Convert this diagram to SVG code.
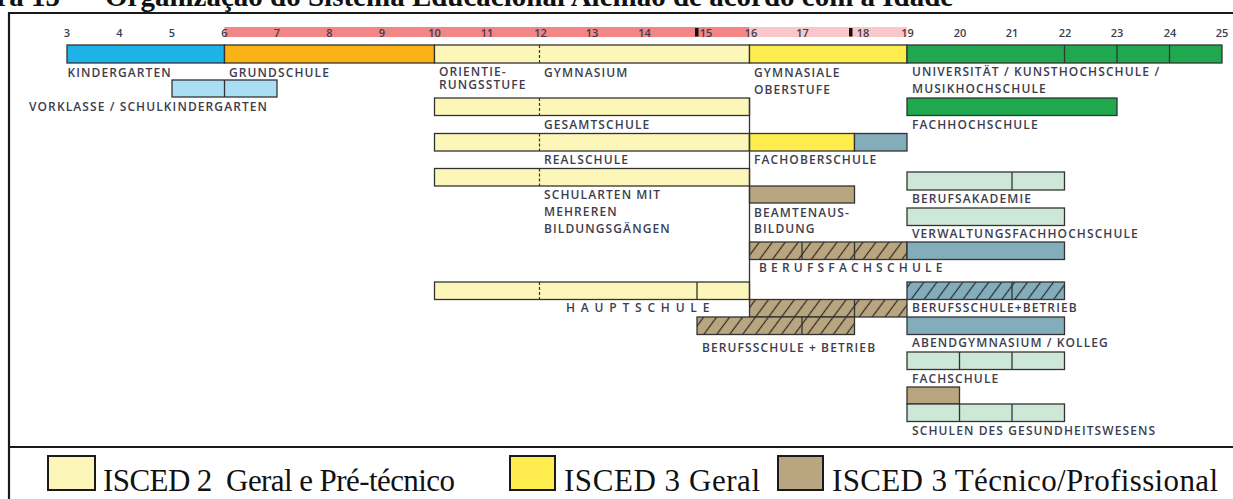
<svg xmlns="http://www.w3.org/2000/svg" width="1233" height="499" viewBox="0 0 1233 499">
<style>
.lbl{font-family:"Open Sans","DejaVu Sans",sans-serif;font-size:12px;font-weight:600;fill:#3d3d4d;letter-spacing:1.1px}
.sp1{letter-spacing:4.2px}
.sp2{letter-spacing:5.8px}
.num{font-family:"Open Sans","DejaVu Sans",sans-serif;font-size:11px;font-weight:600;fill:#3d3d4d;text-anchor:middle}
.bar{stroke:#333;stroke-width:1.3}
.ln{stroke:#333;stroke-width:1.3;fill:none}
.dash{stroke:#333;stroke-width:1.2;stroke-dasharray:3 2;fill:none}
.lyel{fill:#FDF6B9}
.yel{fill:#FFEC4F}
.grn{fill:#20A84F}
.lgrn{fill:#CDE8D6}
.bgr{fill:#84ADBC}
.tan{fill:#B9A57F}
.kblue{fill:#1DB3E6}
.lblue{fill:#A9DFF5}
.org{fill:#FBB215}
.hat{fill:url(#hatch);stroke:#333;stroke-width:1.3}
.leg{font-family:"Liberation Serif","Times New Roman",serif;font-size:31px;fill:#111}
.title{font-family:"Liberation Serif","Times New Roman",serif;font-size:29px;font-weight:bold;fill:#111}
.frame{stroke:#1a1a1a;stroke-width:2.2;fill:none}
</style>
<defs>
<pattern id="hatch" patternUnits="userSpaceOnUse" width="10.4" height="10" patternTransform="rotate(36.6)">
<line x1="5.2" y1="-1" x2="5.2" y2="11" stroke="#2a2a2a" stroke-width="1.2"/>
</pattern>
</defs>

<g id="title">
<text class="title" x="60" y="6" text-anchor="end">Figura 15</text>
<text class="title" x="72" y="6">–</text>
<text class="title" x="105" y="6">Organização do Sistema Educacional Alemão de acordo com a Idade</text>
</g>

<g id="frame">
<line class="frame" x1="9" y1="13" x2="1233" y2="13"/>
<line class="frame" x1="9" y1="12" x2="9" y2="499"/>
<line class="frame" x1="9" y1="447" x2="1233" y2="447"/>
</g>

<g id="age-scale">
<rect x="224.5" y="27" width="525" height="10" fill="#F28585"/>
<rect x="749.5" y="27" width="157.5" height="10" fill="#F9C7C9"/>
<rect x="695" y="28" width="3.5" height="8.5" fill="#111"/>
<rect x="849" y="28" width="3.5" height="8.5" fill="#111"/>
<text class="num" x="67" y="36.5">3</text>
<text class="num" x="119.5" y="36.5">4</text>
<text class="num" x="172" y="36.5">5</text>
<text class="num" x="224.5" y="36.5">6</text>
<text class="num" x="277" y="36.5">7</text>
<text class="num" x="329.5" y="36.5">8</text>
<text class="num" x="382" y="36.5">9</text>
<text class="num" x="434.5" y="36.5">10</text>
<text class="num" x="487" y="36.5">11</text>
<text class="num" x="540.5" y="36.5">12</text>
<text class="num" x="592" y="36.5">13</text>
<text class="num" x="644.5" y="36.5">14</text>
<text class="num" x="706" y="36.5">15</text>
<text class="num" x="751" y="36.5">16</text>
<text class="num" x="802.5" y="36.5">17</text>
<text class="num" x="863" y="36.5">18</text>
<text class="num" x="907.5" y="36.5">19</text>
<text class="num" x="960" y="36.5">20</text>
<text class="num" x="1012" y="36.5">21</text>
<text class="num" x="1065" y="36.5">22</text>
<text class="num" x="1117" y="36.5">23</text>
<text class="num" x="1170" y="36.5">24</text>
<text class="num" x="1222" y="36.5">25</text>
</g>

<g id="kindergarten">
<rect class="bar kblue" x="67" y="45" width="157.5" height="18"/>
<text class="lbl" x="67.5" y="76.5">KINDERGARTEN</text>
</g>
<g id="grundschule">
<rect class="bar org" x="224.5" y="45" width="210" height="18"/>
<text class="lbl" x="229" y="76.5">GRUNDSCHULE</text>
</g>
<g id="vorklasse">
<rect class="bar lblue" x="172" y="80" width="105" height="17"/>
<line class="ln" x1="224.5" y1="80" x2="224.5" y2="97"/>
<text class="lbl" x="29" y="111">VORKLASSE / SCHULKINDERGARTEN</text>
</g>
<g id="orientierungsstufe-gymnasium">
<rect class="bar lyel" x="434.5" y="45" width="315" height="18"/>
<line class="dash" x1="539.5" y1="45" x2="539.5" y2="63"/>
<text class="lbl" x="439" y="75.5">ORIENTIE-</text>
<text class="lbl" x="439" y="89">RUNGSSTUFE</text>
<text class="lbl" x="544" y="76.5">GYMNASIUM</text>
</g>
<g id="gymnasiale-oberstufe">
<rect class="bar yel" x="749.5" y="45" width="157.5" height="18"/>
<text class="lbl" x="754" y="76.5">GYMNASIALE</text>
<text class="lbl" x="754" y="94">OBERSTUFE</text>
</g>
<g id="universitaet">
<rect class="bar grn" x="907" y="45" width="315" height="18"/>
<line class="ln" x1="1064.5" y1="45" x2="1064.5" y2="63"/>
<line class="ln" x1="1117" y1="45" x2="1117" y2="63"/>
<line class="ln" x1="1169.5" y1="45" x2="1169.5" y2="63"/>
<text class="lbl" x="912" y="76">UNIVERSITÄT / KUNSTHOCHSCHULE /</text>
<text class="lbl" x="912" y="93">MUSIKHOCHSCHULE</text>
</g>

<g id="gesamtschule">
<rect class="bar lyel" x="434.5" y="98" width="315" height="17.5"/>
<line class="dash" x1="539.5" y1="98" x2="539.5" y2="115.5"/>
<text class="lbl" x="544" y="129">GESAMTSCHULE</text>
</g>
<g id="fachhochschule">
<rect class="bar grn" x="907" y="98" width="210" height="17.5"/>
<text class="lbl" x="912" y="129">FACHHOCHSCHULE</text>
</g>

<g id="realschule">
<rect class="bar lyel" x="434.5" y="133.5" width="315" height="17.5"/>
<line class="dash" x1="539.5" y1="133.5" x2="539.5" y2="151"/>
<text class="lbl" x="544" y="164">REALSCHULE</text>
</g>
<g id="fachoberschule">
<rect class="bar yel" x="749.5" y="133.5" width="105" height="17.5"/>
<rect class="bar bgr" x="854.5" y="133.5" width="52.5" height="17.5"/>
<text class="lbl" x="754" y="164">FACHOBERSCHULE</text>
</g>

<g id="schularten">
<rect class="bar lyel" x="434.5" y="168.5" width="315" height="17.5"/>
<line class="dash" x1="539.5" y1="168.5" x2="539.5" y2="186"/>
<text class="lbl" x="544" y="199">SCHULARTEN MIT</text>
<text class="lbl" x="544" y="216">MEHREREN</text>
<text class="lbl" x="544" y="233">BILDUNGSGÄNGEN</text>
</g>
<g id="beamtenausbildung">
<rect class="bar tan" x="749.5" y="186" width="105" height="17"/>
<text class="lbl" x="754" y="216.5">BEAMTENAUS-</text>
<text class="lbl" x="754" y="233">BILDUNG</text>
</g>
<g id="berufsakademie">
<rect class="bar lgrn" x="907" y="172" width="157.5" height="18"/>
<line class="ln" x1="1012" y1="172" x2="1012" y2="190"/>
<text class="lbl" x="912" y="203">BERUFSAKADEMIE</text>
</g>
<g id="verwaltungsfachhochschule">
<rect class="bar lgrn" x="907" y="208" width="157.5" height="17.5"/>
<text class="lbl" x="912" y="238">VERWALTUNGSFACHHOCHSCHULE</text>
</g>

<g id="berufsfachschule">
<rect class="tan" x="749.5" y="242" width="157.5" height="17.5"/>
<rect class="hat" x="749.5" y="242" width="157.5" height="17.5"/>
<line class="ln" x1="802" y1="242" x2="802" y2="259.5"/>
<line class="ln" x1="854.5" y1="242" x2="854.5" y2="259.5"/>
<rect class="bar bgr" x="907" y="242" width="157.5" height="17.5"/>
<text class="lbl sp1" x="759" y="272">BERUFSFACHSCHULE</text>
</g>

<g id="hauptschule">
<rect class="bar lyel" x="434.5" y="282" width="315" height="17.5"/>
<line class="dash" x1="539.5" y1="282" x2="539.5" y2="299.5"/>
<line class="ln" x1="697" y1="282" x2="697" y2="299.5"/>
<text class="lbl sp2" x="566" y="312">HAUPTSCHULE</text>
</g>

<g id="berufsschule-betrieb">
<rect class="tan" x="749.5" y="299.5" width="157.5" height="17.5"/>
<rect class="hat" x="749.5" y="299.5" width="157.5" height="17.5"/>
<line class="ln" x1="854.5" y1="299.5" x2="854.5" y2="317"/>
<rect class="tan" x="697" y="317" width="157.5" height="17.5"/>
<rect class="hat" x="697" y="317" width="157.5" height="17.5"/>
<line class="ln" x1="802" y1="317" x2="802" y2="334.5"/>
<text class="lbl" x="702" y="352">BERUFSSCHULE + BETRIEB</text>
</g>

<g id="berufsschule-betrieb-2">
<rect class="bgr" x="907" y="282" width="157.5" height="17.5"/>
<rect class="hat" x="907" y="282" width="157.5" height="17.5"/>
<line class="ln" x1="1012" y1="282" x2="1012" y2="299.5"/>
<text class="lbl" x="912" y="312">BERUFSSCHULE+BETRIEB</text>
</g>
<g id="abendgymnasium">
<rect class="bar bgr" x="907" y="317" width="157.5" height="17.5"/>
<text class="lbl" x="912" y="347">ABENDGYMNASIUM / KOLLEG</text>
</g>
<g id="fachschule">
<rect class="bar lgrn" x="907" y="352" width="157.5" height="17.5"/>
<line class="ln" x1="959.5" y1="352" x2="959.5" y2="369.5"/>
<line class="ln" x1="1012" y1="352" x2="1012" y2="369.5"/>
<text class="lbl" x="912" y="383">FACHSCHULE</text>
</g>
<g id="gesundheitswesen">
<rect class="bar tan" x="907" y="387" width="52.5" height="17"/>
<rect class="bar lgrn" x="907" y="404" width="157.5" height="17.5"/>
<line class="ln" x1="959.5" y1="404" x2="959.5" y2="421.5"/>
<line class="ln" x1="1012" y1="404" x2="1012" y2="421.5"/>
<text class="lbl" x="912" y="435">SCHULEN DES GESUNDHEITSWESENS</text>
</g>

<g id="connectors">
<line class="ln" x1="749.5" y1="98" x2="749.5" y2="299.5"/>
</g>

<g id="legend">
<rect x="48" y="456" width="47" height="34" fill="#FDF6B9" stroke="#1a1a1a" stroke-width="2"/>
<text class="leg" x="103" y="491" xml:space="preserve" textLength="352" lengthAdjust="spacing">ISCED 2  Geral e Pré-técnico</text>
<rect x="510" y="456" width="45" height="34" fill="#FFEC4F" stroke="#1a1a1a" stroke-width="2"/>
<text class="leg" x="564" y="491" textLength="196" lengthAdjust="spacing">ISCED 3 Geral</text>
<rect x="778" y="456" width="45" height="34" fill="#B9A57F" stroke="#1a1a1a" stroke-width="2"/>
<text class="leg" x="832" y="491" textLength="386" lengthAdjust="spacing">ISCED 3 Técnico/Profissional</text>
</g>
</svg>
